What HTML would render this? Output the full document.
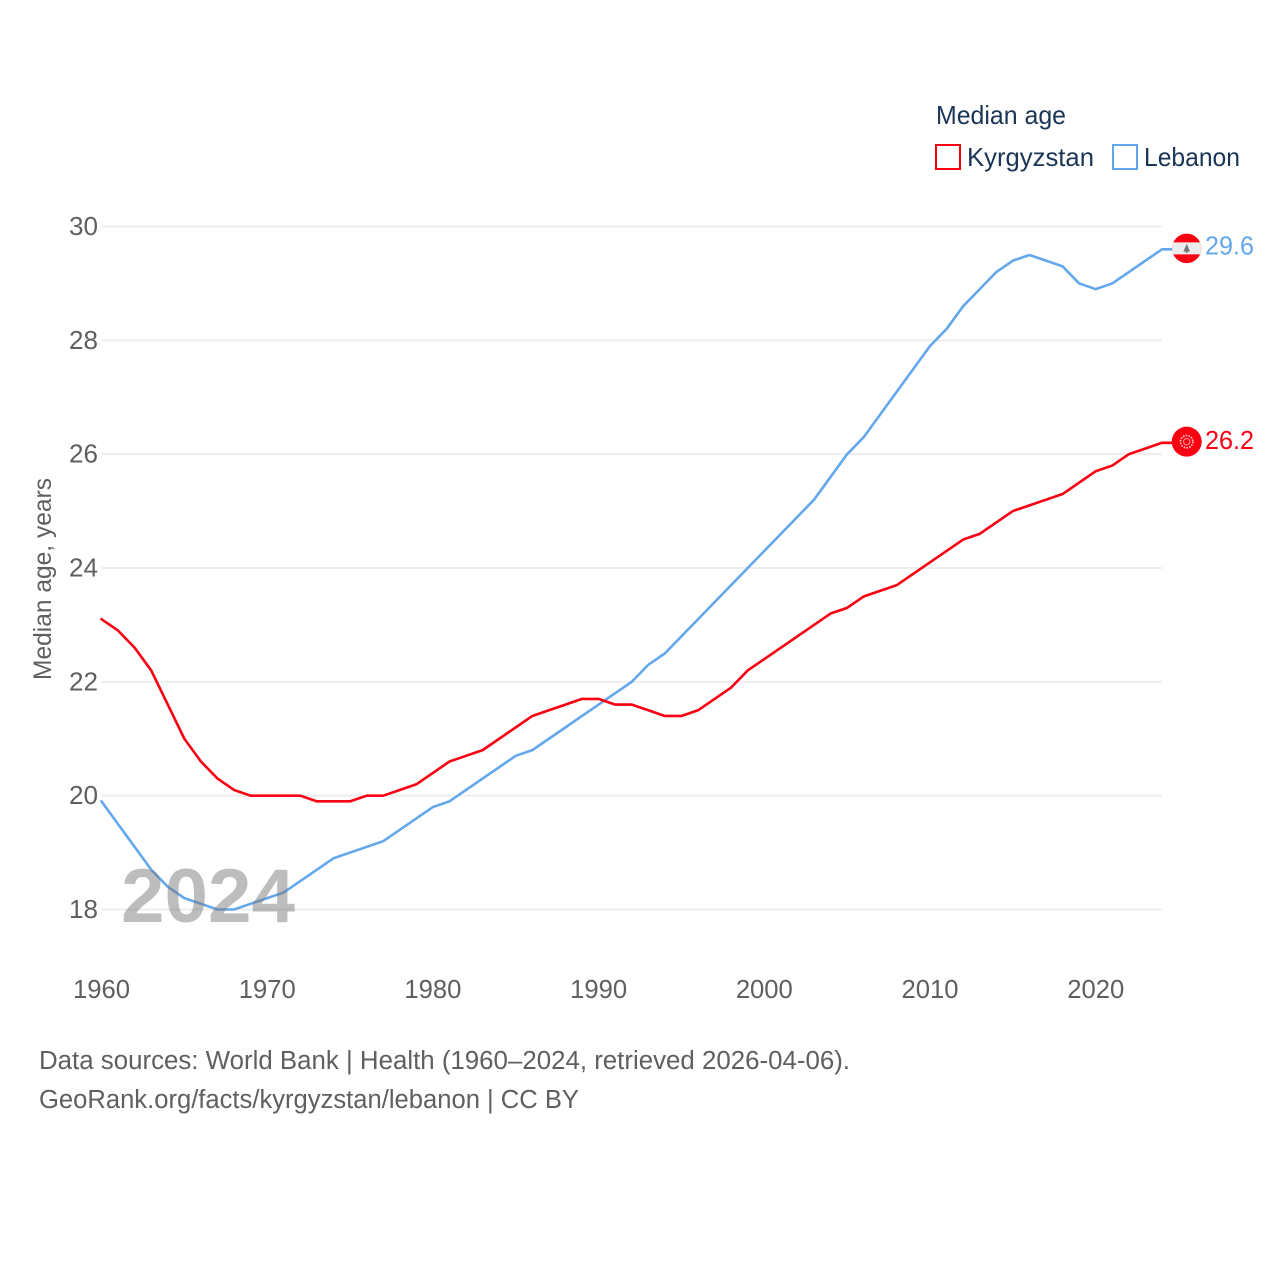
<!DOCTYPE html>
<html>
<head>
<meta charset="utf-8">
<title>Median age: Kyrgyzstan and Lebanon</title>
<style>
html,body{margin:0;padding:0;background:#fff;}
svg{display:block;}
text{font-family:"Liberation Sans",sans-serif;}
</style>
</head>
<body>
<svg id="chart" xmlns="http://www.w3.org/2000/svg" width="1280" height="1280" viewBox="0 0 1280 1280">
  <rect x="0" y="0" width="1280" height="1280" fill="#fff"/>
  <g id="grid"></g>
  <g id="yticks"></g>
  <g id="xticks"></g>
  <text transform="translate(51,680) rotate(-90)" font-size="25" fill="#5f5f5f" textLength="202" lengthAdjust="spacingAndGlyphs">Median age, years</text>
  <g id="series"></g>
  <g id="ends"></g>
  <text x="121" y="922" font-size="76" font-weight="bold" fill="#777" opacity="0.48" textLength="174" lengthAdjust="spacingAndGlyphs">2024</text>
  <g>
    <text x="936" y="124" font-size="26" fill="#1b3556" textLength="130" lengthAdjust="spacingAndGlyphs">Median age</text>
    <rect x="936" y="145" width="24" height="24" fill="#fff" stroke="#fa0012" stroke-width="2"/>
    <text x="967" y="166" font-size="26" fill="#1b3556" textLength="127" lengthAdjust="spacingAndGlyphs">Kyrgyzstan</text>
    <rect x="1113" y="145" width="24" height="24" fill="#fff" stroke="#64a8ec" stroke-width="2"/>
    <text x="1144" y="166" font-size="26" fill="#1b3556" textLength="96" lengthAdjust="spacingAndGlyphs">Lebanon</text>
  </g>
  <text x="39" y="1069" font-size="25.5" fill="#5f5f5f" textLength="811" lengthAdjust="spacingAndGlyphs">Data sources: World Bank | Health (1960–2024, retrieved 2026-04-06).</text>
  <text x="39" y="1108" font-size="25.5" fill="#5f5f5f" textLength="540" lengthAdjust="spacingAndGlyphs">GeoRank.org/facts/kyrgyzstan/lebanon | CC BY</text>
</svg>
<script>
const firstYear = 1960;
const kyrgyzstanValues = [23.1,22.9,22.6,22.2,21.6,21.0,20.6,20.3,20.1,20.0,20.0,20.0,20.0,19.9,19.9,19.9,20.0,20.0,20.1,20.2,20.4,20.6,20.7,20.8,21.0,21.2,21.4,21.5,21.6,21.7,21.7,21.6,21.6,21.5,21.4,21.4,21.5,21.7,21.9,22.2,22.4,22.6,22.8,23.0,23.2,23.3,23.5,23.6,23.7,23.9,24.1,24.3,24.5,24.6,24.8,25.0,25.1,25.2,25.3,25.5,25.7,25.8,26.0,26.1,26.2];
const lebanonValues = [19.9,19.5,19.1,18.7,18.4,18.2,18.1,18.0,18.0,18.1,18.2,18.3,18.5,18.7,18.9,19.0,19.1,19.2,19.4,19.6,19.8,19.9,20.1,20.3,20.5,20.7,20.8,21.0,21.2,21.4,21.6,21.8,22.0,22.3,22.5,22.8,23.1,23.4,23.7,24.0,24.3,24.6,24.9,25.2,25.6,26.0,26.3,26.7,27.1,27.5,27.9,28.2,28.6,28.9,29.2,29.4,29.5,29.4,29.3,29.0,28.9,29.0,29.2,29.4,29.6];
const yTickValues = [18,20,22,24,26,28,30];
const xTickValues = [1960,1970,1980,1990,2000,2010,2020];

const NS = 'http://www.w3.org/2000/svg';
const RED = '#fa0012';
const BLUE = '#64a8ec';
function xScale(year){ return 101.5 + (year - firstYear) * (1162 - 101.5) / (2024 - firstYear); }
function yScale(v){ return 909.5 - (v - 18) * (909.5 - 226.5) / 12; }
function make(tag, attrs, parent){
  const el = document.createElementNS(NS, tag);
  for (const k in attrs) el.setAttribute(k, attrs[k]);
  parent.appendChild(el);
  return el;
}

const gridG = document.getElementById('grid');
const yG = document.getElementById('yticks');
const xG = document.getElementById('xticks');
yTickValues.forEach(function(v){
  const line = make('line', {x1:101.5, x2:1162, y1:yScale(v), y2:yScale(v), stroke:'#eeeeee', 'stroke-width':2}, gridG);
  
  
  const t = make('text', {x:98, y:yScale(v)+8.5, 'text-anchor':'end', 'font-size':25.5, fill:'#5f5f5f', textLength:29, lengthAdjust:'spacingAndGlyphs'}, yG);
  t.textContent = String(v);
  
  
});
xTickValues.forEach(function(y){
  const t = make('text', {x:xScale(y), y:998, 'text-anchor':'middle', 'font-size':25.5, fill:'#5f5f5f', textLength:57, lengthAdjust:'spacingAndGlyphs'}, xG);
  t.textContent = String(y);
  
  
});

const seriesG = document.getElementById('series');
function drawLine(values, color, name){
  const pts = values.map(function(v,i){ return xScale(firstYear+i).toFixed(2) + ',' + yScale(v).toFixed(2); });
  const last = values[values.length-1];
  pts.push('1172,' + yScale(last).toFixed(2));
  const p = make('polyline', {points:pts.join(' '), fill:'none', stroke:color, 'stroke-width':2.6, 'stroke-linejoin':'round', 'stroke-linecap':'round'}, seriesG);
  
  
}
drawLine(lebanonValues, BLUE, 'line-lebanon');
drawLine(kyrgyzstanValues, RED, 'line-kyrgyzstan');

const endsG = document.getElementById('ends');
function endLabel(value, color, name, dy){
  const t = make('text', {x:1205, y:yScale(value)+dy, 'font-size':25.5, fill:color, textLength:49, lengthAdjust:'spacingAndGlyphs'}, endsG);
  t.textContent = value.toFixed(1);
  
  
}
endLabel(lebanonValues[lebanonValues.length-1], BLUE, 'end-value-lebanon', 5);
endLabel(kyrgyzstanValues[kyrgyzstanValues.length-1], RED, 'end-value-kyrgyzstan', 6);

// Lebanon flag marker
(function(){
  const cy = yScale(lebanonValues[lebanonValues.length-1]) - 0.9;
  const cx = 1186.7;
  const g = make('g', {transform:'translate('+cx+','+cy.toFixed(2)+')'}, endsG);
  
  
  make('circle', {r:14.7, fill:RED}, g);
  const clip = make('clipPath', {id:'lb-clip'}, g);
  make('circle', {r:14.7}, clip);
  make('rect', {x:-15, y:-6, width:30, height:12, fill:'#ececec', 'clip-path':'url(#lb-clip)'}, g);
  make('polygon', {points:'0,-4.5 3.4,3.2 0.8,3.2 0.8,4.6 -0.8,4.6 -0.8,3.2 -3.4,3.2', fill:'#777'}, g);
})();

// Kyrgyzstan flag marker
(function(){
  const cy = yScale(kyrgyzstanValues[kyrgyzstanValues.length-1]) - 1.1;
  const cx = 1186.7;
  const g = make('g', {transform:'translate('+cx+','+cy.toFixed(2)+')'}, endsG);
  
  
  make('circle', {r:15, fill:RED}, g);
  make('circle', {r:6.2, fill:'none', stroke:'#ffc0c0', 'stroke-width':1.8, 'stroke-dasharray':'1.6 1.2'}, g);
  make('circle', {r:3.2, fill:'none', stroke:'#ff9a9a', 'stroke-width':1}, g);
})();
</script>
</body>
</html>
